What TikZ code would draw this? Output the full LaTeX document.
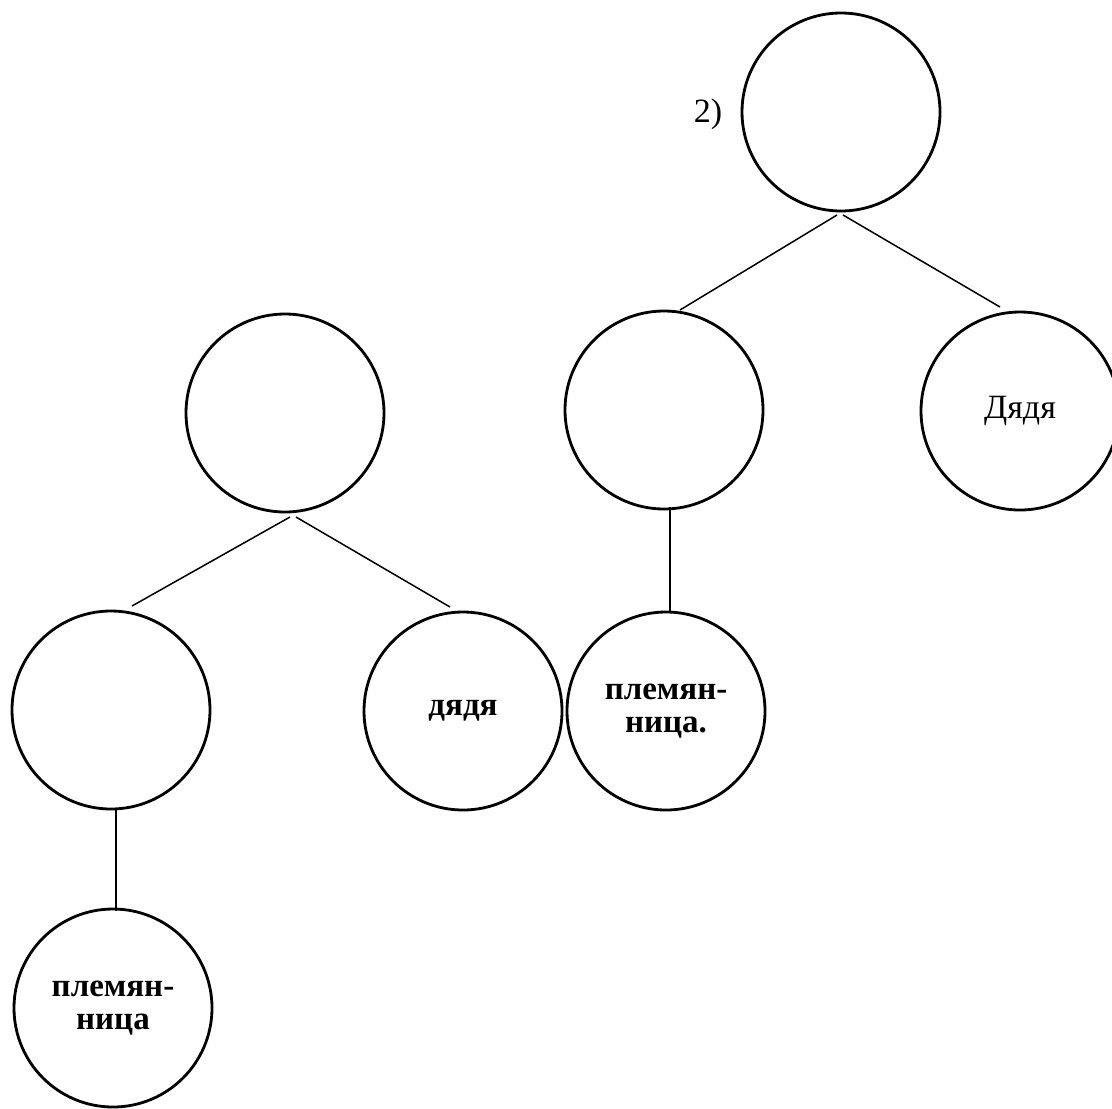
\documentclass[tikz,border=0pt]{standalone}
\usepackage{fontspec}
\setmainfont{Liberation Serif}
\begin{document}
\begin{tikzpicture}[x=0.5pt,y=-0.5pt,
  person/.style={circle,draw,line width=1.4pt,minimum size=99pt,inner sep=0pt,
    align=center,font=\fontsize{17}{16.5}\selectfont},
  heavy/.style={font=\fontsize{16.5}{16.5}\selectfont\bfseries},
  link/.style={line width=0.75pt},
  label text/.style={font=\fontsize{17}{16.5}\selectfont,inner sep=0pt}]
\clip (0,0) rectangle (1112,1108);
% right tree
\node[person] (T) at (841,112) {};
\node[label text] (num) at (708,114) {2)};
\node[person] (M) at (664,410) {};
\node[person] (D) at (1020,411) {Дядя};
\node[person,heavy] (P2) at (666,711) {племян-\\ница.};
% left tree
\node[person] (L) at (285,413) {};
\node[person] (LL) at (111,710) {};
\node[person,heavy] (d) at (463,711) {дядя};
\node[person,heavy] (P1) at (113,1008) {племян-\\ница};
% connector end points
\coordinate (Ta) at (837,215);
\coordinate (Tb) at (843,215);
\coordinate (Ma) at (680,310);
\coordinate (Da) at (1000,307);
\coordinate (Mb) at (670,507);
\coordinate (P2a) at (670,613);
\coordinate (La) at (290,517);
\coordinate (Lb) at (296,517);
\coordinate (LLa) at (132,606);
\coordinate (da) at (450,607);
\coordinate (LLb) at (116,808);
\coordinate (P1a) at (116,911);
% connectors
\draw[link] (Ta) -- (Ma);
\draw[link] (Tb) -- (Da);
\draw[link] (Mb) -- (P2a);
\draw[link] (La) -- (LLa);
\draw[link] (Lb) -- (da);
\draw[link] (LLb) -- (P1a);
\end{tikzpicture}
\end{document}
